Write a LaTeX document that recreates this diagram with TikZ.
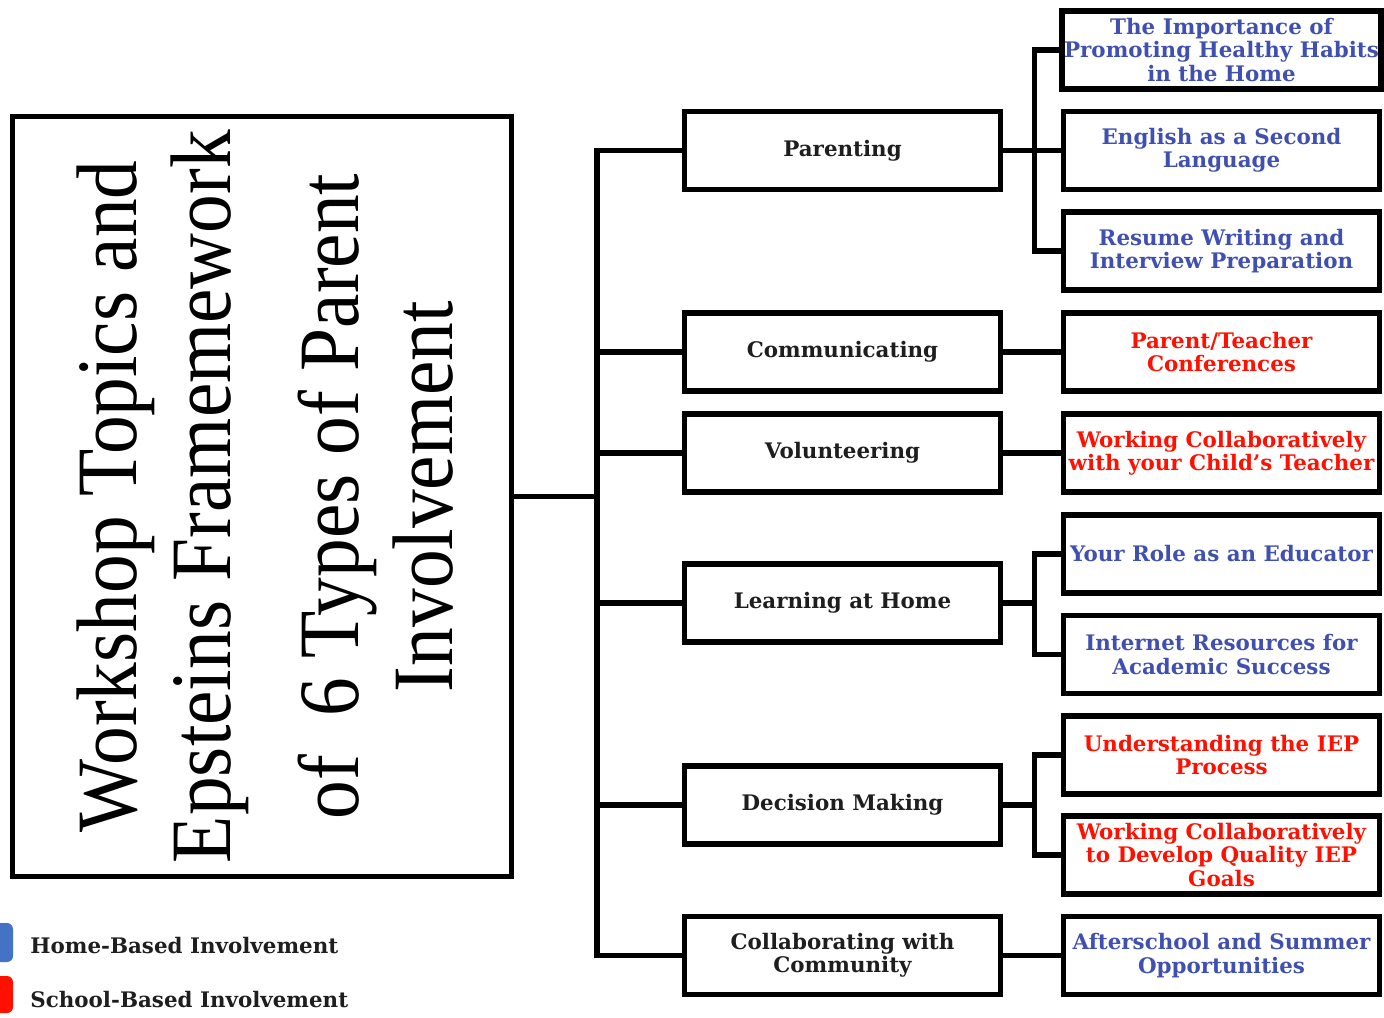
\documentclass[tikz,border=0pt]{standalone}
\usepackage{fontspec}
\usepackage{tikz}
\usepackage{xcolor}
\setmainfont{DejaVu Serif}
\newfontfamily\titlefont[FakeStretch=0.9]{Liberation Serif}
\definecolor{homeblue}{RGB}{64,80,176}
\definecolor{schoolred}{RGB}{255,16,0}
\definecolor{legendblue}{RGB}{68,114,196}
\definecolor{inkgray}{RGB}{30,30,30}
\tikzset{
    topic-box/.style = {draw=black, line width=2.75pt, rectangle, minimum width=158pt, minimum height=39pt, inner sep=1pt, align=center, font=\bfseries\fontsize{10.7}{11.6}\selectfont},
    type-box/.style = {topic-box, text=inkgray},
    home-box/.style = {topic-box, text=homeblue},
    school-box/.style = {topic-box, text=schoolred},
    title-box/.style = {draw=black, line width=2.5pt, rectangle, minimum width=249.5pt, minimum height=380pt, inner sep=0pt},
    title-text/.style = {rotate=90, inner sep=0pt, align=center, font=\titlefont\fontsize{43}{47}\selectfont},
    branch/.style = {line width=2.6pt},
    legend-key/.style = {rounded corners=3pt},
    legend-label/.style = {anchor=west, inner sep=0pt, text=inkgray, font=\bfseries\fontsize{10.7}{11.6}\selectfont},
}

\begin{document}
\begin{tikzpicture}[x=0.5pt, y=-0.5pt]
\useasboundingbox (0,0) rectangle (1384,1017);
% title
\node[title-box] (title) at (262,496.5) {};
\node[title-text] (title-label) at (265,496.5) {Workshop Topics and\\ Epsteins Framemework\\[17pt] of~ 6 Types of Parent\\ Involvement};
% six types
\node[type-box] (parenting) at (842.5,150.5) {Parenting};
\node[type-box] (communicating) at (842.5,352) {Communicating};
\node[type-box] (volunteering) at (842.5,453) {Volunteering};
\node[type-box] (learning) at (842.5,603) {Learning at Home};
\node[type-box] (decision) at (842.5,805) {Decision Making};
\node[type-box] (collaborating) at (842.5,955.5) {Collaborating with\\Community};
% workshops
\node[home-box] (healthy) at (1221.5,50) {The Importance of\\Promoting Healthy Habits\\in the Home};
\node[home-box] (esl) at (1221.5,150.5) {English as a Second\\Language};
\node[home-box] (resume) at (1221.5,251) {Resume Writing and\\Interview Preparation};
\node[school-box] (conferences) at (1221.5,352) {Parent/Teacher\\Conferences};
\node[school-box] (teacher) at (1221.5,453) {Working Collaboratively\\with your Child’s Teacher};
\node[home-box] (educator) at (1221.5,554) {Your Role as an Educator};
\node[home-box] (internet) at (1221.5,654.5) {Internet Resources for\\Academic Success};
\node[school-box] (iep) at (1221.5,755) {Understanding the IEP\\Process};
\node[school-box] (iepgoals) at (1221.5,855) {Working Collaboratively\\to Develop Quality IEP\\Goals};
\node[home-box] (afterschool) at (1221.5,955.5) {Afterschool and Summer\\Opportunities};
% connectors
\coordinate (trunk) at (597,496.5);
\draw[branch] (title.east) -- (trunk);
\foreach \type in {parenting,communicating,volunteering,learning,decision,collaborating}
    \draw[branch] (trunk) |- (\type.west);
\draw[branch] (parenting) -- (esl);
\foreach \type/\first/\last in {parenting/healthy/resume, learning/educator/internet, decision/iep/iepgoals}{
    \draw[branch] (\type.east) -- ++(31,0) coordinate (fork);
    \draw[branch] (\first.west) -| (fork) |- (\last.west);
}
\foreach \type/\topic in {communicating/conferences, volunteering/teacher, collaborating/afterschool}
    \draw[branch] (\type) -- (\topic);
% legend
\fill[legendblue, legend-key] (-20,923) rectangle (13,962);
\fill[schoolred, legend-key] (-20,976) rectangle (13,1013);
\node[legend-label] (home-label) at (30,946) {Home-Based Involvement};
\node[legend-label] (school-label) at (30,1000) {School-Based Involvement};
\end{tikzpicture}
\end{document}
